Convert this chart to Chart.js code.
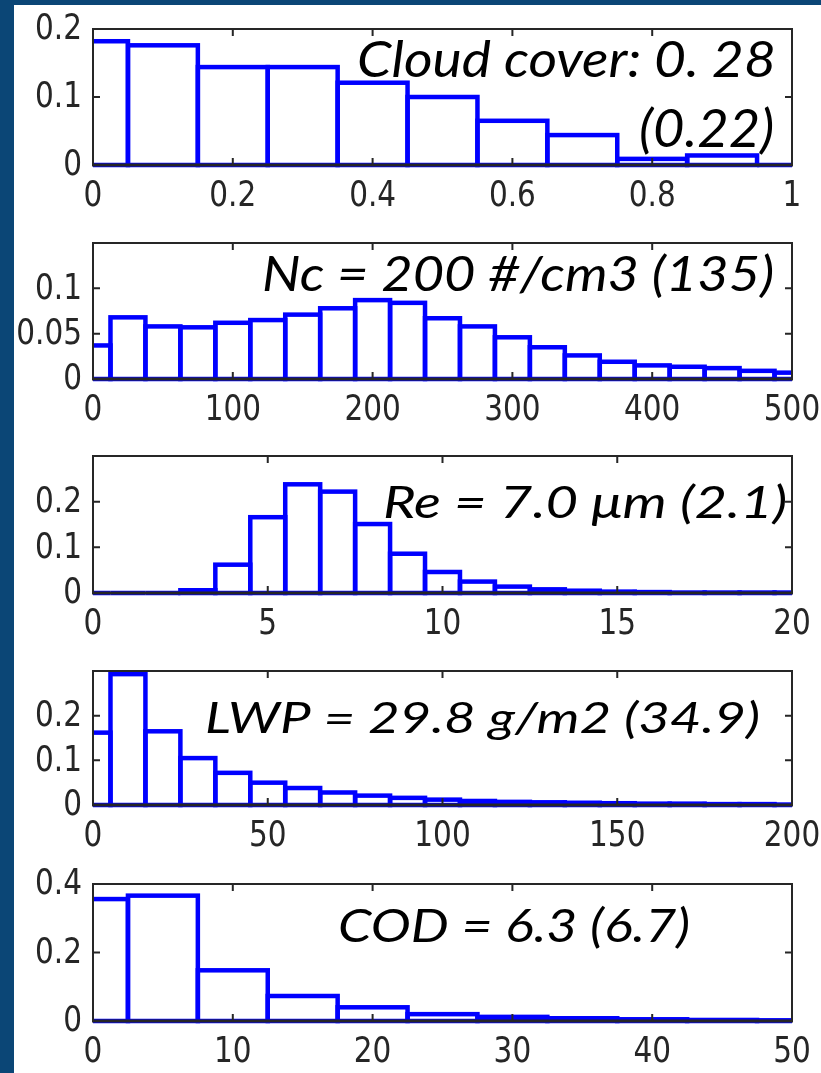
<!DOCTYPE html>
<html>
<head>
<meta charset="utf-8">
<script src="https://cdn.jsdelivr.net/npm/chart.js@4.4.1/dist/chart.umd.min.js"></script>
<style>
  html, body { margin: 0; padding: 0; }
  body { width: 821px; height: 1073px; background: #0b4676; position: relative; overflow: hidden; }
  #sheet { position: absolute; left: 14px; top: 5px; right: 0; bottom: 0; background: #fff; }
  canvas { position: absolute; left: 0; }
</style>
</head>
<body>
<div id="sheet"></div>
<canvas id="cloud"></canvas>
<canvas id="nc"></canvas>
<canvas id="re"></canvas>
<canvas id="lwp"></canvas>
<canvas id="cod"></canvas>
<script>
// Cloud cover
const cloudBins = [0, 0.1, 0.2, 0.3, 0.4, 0.5, 0.6, 0.7, 0.8, 0.9, 1.0];
const cloudFreq = [0.182, 0.176, 0.144, 0.144, 0.121, 0.100, 0.065, 0.044, 0.009, 0.014, 0];
const cloudXTicks = ['0', '0.2', '0.4', '0.6', '0.8', '1'];
const cloudYTicks = ['0', '0.1', '0.2'];

// Droplet number concentration
const ncBins = [0, 25, 50, 75, 100, 125, 150, 175, 200, 225, 250, 275, 300, 325, 350, 375, 400, 425, 450, 475, 500];
const ncFreq = [0.037, 0.068, 0.058, 0.057, 0.062, 0.065, 0.071, 0.078, 0.087, 0.084, 0.067, 0.058, 0.046, 0.035, 0.026, 0.019, 0.015, 0.0135, 0.012, 0.009, 0.007];
const ncXTicks = ['0', '100', '200', '300', '400', '500'];
const ncYTicks = ['0', '0.05', '0.1'];

// Effective radius
const reBins = [0, 1, 2, 3, 4, 5, 6, 7, 8, 9, 10, 11, 12, 13, 14, 15, 16, 17, 18, 19, 20];
const reFreq = [0, 0, 0, 0.006, 0.062, 0.166, 0.238, 0.222, 0.151, 0.086, 0.046, 0.025, 0.014, 0.008, 0.005, 0.003, 0.002, 0.001, 0.001, 0.001, 0.001];
const reXTicks = ['0', '5', '10', '15', '20'];
const reYTicks = ['0', '0.1', '0.2'];

// Liquid water path
const lwpBins = [0, 10, 20, 30, 40, 50, 60, 70, 80, 90, 100, 110, 120, 130, 140, 150, 160, 170, 180, 190, 200];
const lwpFreq = [0.162, 0.293, 0.165, 0.105, 0.072, 0.050, 0.038, 0.028, 0.021, 0.016, 0.012, 0.009, 0.007, 0.006, 0.005, 0.004, 0.003, 0.003, 0.002, 0.002, 0.001];
const lwpXTicks = ['0', '50', '100', '150', '200'];
const lwpYTicks = ['0', '0.1', '0.2'];

// Cloud optical depth
const codBins = [0, 5, 10, 15, 20, 25, 30, 35, 40, 45, 50];
const codFreq = [0.356, 0.366, 0.148, 0.073, 0.040, 0.020, 0.012, 0.008, 0.005, 0.003, 0.002];
const codXTicks = ['0', '10', '20', '30', '40', '50'];
const codYTicks = ['0', '0.2', '0.4'];

const panels = [
  { id: 'cloud', bins: cloudBins, freq: cloudFreq, xTicks: cloudXTicks, yTicks: cloudYTicks, xMax: 1, yMax: 0.2, top: 29, bottom: 165,
    notes: [{ text: 'Cloud cover: 0. 28', left: 359, right: 773, top: 42, base: 77 },
            { text: '(0.22)', left: 641, right: 772, top: 110, base: 147 }] },
  { id: 'nc', bins: ncBins, freq: ncFreq, xTicks: ncXTicks, yTicks: ncYTicks, xMax: 500, yMax: 0.15, top: 243, bottom: 379,
    notes: [{ text: 'Nc = 200 #/cm3 (135)', left: 264, right: 772, top: 256, base: 291 }] },
  { id: 're', bins: reBins, freq: reFreq, xTicks: reXTicks, yTicks: reYTicks, xMax: 20, yMax: 0.3, top: 456, bottom: 593,
    notes: [{ text: 'Re = 7.0 \u03bcm (2.1)', left: 385, right: 785, top: 486, base: 518 }] },
  { id: 'lwp', bins: lwpBins, freq: lwpFreq, xTicks: lwpXTicks, yTicks: lwpYTicks, xMax: 200, yMax: 0.3, top: 671, bottom: 805,
    notes: [{ text: 'LWP = 29.8 g/m2 (34.9)', left: 207, right: 758, top: 702, base: 733 }] },
  { id: 'cod', bins: codBins, freq: codFreq, xTicks: codXTicks, yTicks: codYTicks, xMax: 50, yMax: 0.4, top: 884, bottom: 1021,
    notes: [{ text: 'COD = 6.3 (6.7)', left: 340, right: 688, top: 908, base: 942 }] }
];

const AXIS_LEFT = 93, AXIS_RIGHT = 792, PAD_TOP = 29;
const INK = '#262626';

function drawNote(ctx, n, offsetY) {
  ctx.save();
  ctx.font = 'italic 100px Lato';
  let m = ctx.measureText(n.text);
  const size = 100 * (n.right - n.left) / (m.actualBoundingBoxLeft + m.actualBoundingBoxRight);
  ctx.font = 'italic ' + size + 'px Lato';
  m = ctx.measureText(n.text);
  const cap = ctx.measureText('H').actualBoundingBoxAscent;
  const sy = (n.base - n.top) / cap;
  ctx.translate(n.left + m.actualBoundingBoxLeft, n.base - offsetY);
  ctx.scale(1, sy);
  ctx.fillStyle = '#000';
  ctx.textAlign = 'left';
  ctx.textBaseline = 'alphabetic';
  ctx.fillText(n.text, 0, 0);
  ctx.restore();
}

const histPlugin = {
  id: 'histBox',
  afterDatasetsDraw(chart) {
    const { ctx, chartArea: a } = chart;
    const meta = chart.getDatasetMeta(0);
    ctx.save();
    ctx.beginPath();
    ctx.rect(a.left, a.top - 4, a.right - a.left, a.bottom - a.top + 7);
    ctx.clip();
    ctx.strokeStyle = '#0000ff';
    ctx.lineWidth = 4.5;
    meta.data.forEach(bar => {
      const p = bar.getProps(['x', 'y', 'base', 'width'], true);
      ctx.strokeRect(p.x - p.width / 2, p.y, p.width, p.base - p.y);
    });
    ctx.restore();
  },
  afterDraw(chart) {
    const { ctx, chartArea: a, scales } = chart;
    const panel = chart.options.plugins.histBox;
    const xs = scales.x, ys = scales.y;
    ctx.save();
    ctx.strokeStyle = INK;
    ctx.lineWidth = 2;
    ctx.strokeRect(a.left, a.top, a.right - a.left, a.bottom - a.top);
    ctx.lineWidth = 3;
    ctx.beginPath();
    ctx.moveTo(a.left - 1, a.bottom);
    ctx.lineTo(a.right + 1, a.bottom);
    ctx.stroke();

    // inward ticks on all four sides
    ctx.lineWidth = 2;
    ctx.beginPath();
    panel.xTicks.forEach(l => {
      const px = xs.getPixelForValue(parseFloat(l));
      ctx.moveTo(px, a.bottom); ctx.lineTo(px, a.bottom - 7);
      ctx.moveTo(px, a.top); ctx.lineTo(px, a.top + 7);
    });
    panel.yTicks.forEach(l => {
      const py = ys.getPixelForValue(parseFloat(l));
      ctx.moveTo(a.left, py); ctx.lineTo(a.left + 7, py);
      ctx.moveTo(a.right, py); ctx.lineTo(a.right - 7, py);
    });
    ctx.stroke();

    // tick labels
    ctx.fillStyle = INK;
    ctx.font = '36px "DejaVu Sans"';
    ctx.textBaseline = 'middle';
    panel.xTicks.forEach(l => {
      const px = xs.getPixelForValue(parseFloat(l));
      ctx.save();
      ctx.translate(px, a.bottom + 32);
      ctx.scale(0.82, 1);
      ctx.textAlign = 'center';
      ctx.fillText(l, 0, 0);
      ctx.restore();
    });
    panel.yTicks.forEach(l => {
      const py = ys.getPixelForValue(parseFloat(l));
      ctx.save();
      ctx.translate(a.left - 11, py + 1);
      ctx.scale(0.82, 1);
      ctx.textAlign = 'right';
      ctx.fillText(l, 0, 0);
      ctx.restore();
    });
    ctx.restore();

    panel.notes.forEach(n => drawNote(ctx, n, panel.top - PAD_TOP));
  }
};

panels.forEach(panel => {
  const canvas = document.getElementById(panel.id);
  const canvasTop = panel.top - PAD_TOP;
  const height = Math.min(222, 1073 - canvasTop);
  canvas.width = 821;
  canvas.height = height;
  canvas.style.top = canvasTop + 'px';

  new Chart(canvas, {
    type: 'bar',
    data: {
      datasets: [{
        data: panel.bins.map((b, i) => ({ x: b, y: panel.freq[i] })),
        backgroundColor: '#ffffff',
        borderWidth: 0,
        barPercentage: 1,
        categoryPercentage: 1
      }]
    },
    options: {
      responsive: false,
      animation: false,
      events: [],
      layout: {
        padding: {
          left: AXIS_LEFT,
          right: 821 - AXIS_RIGHT,
          top: PAD_TOP,
          bottom: height - PAD_TOP - (panel.bottom - panel.top)
        }
      },
      plugins: {
        legend: { display: false },
        tooltip: { enabled: false },
        histBox: panel
      },
      scales: {
        x: { type: 'linear', min: 0, max: panel.xMax, offset: false, display: false },
        y: { min: 0, max: panel.yMax, display: false }
      }
    },
    plugins: [histPlugin]
  });
});
</script>
</body>
</html>
